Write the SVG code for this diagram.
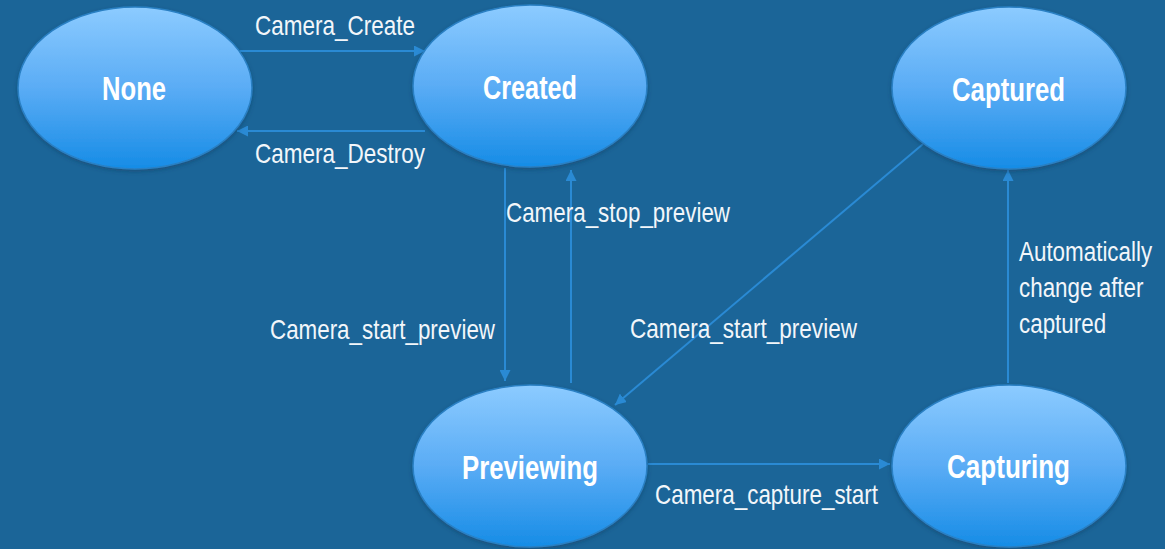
<svg xmlns="http://www.w3.org/2000/svg" width="1165" height="549" viewBox="0 0 1165 549">
<defs>
<linearGradient id="g" x1="0" y1="0" x2="0" y2="1">
<stop offset="0" stop-color="#8CCBFF"/>
<stop offset="0.5" stop-color="#5AACF5"/>
<stop offset="1" stop-color="#168CE6"/>
</linearGradient>
<filter id="sh" x="-10%" y="-10%" width="120%" height="125%">
<feDropShadow dx="0" dy="2" stdDeviation="2" flood-color="#0a3a60" flood-opacity="0.5"/>
</filter>
<marker id="ah" viewBox="0 0 10 10" refX="10" refY="5" markerWidth="11" markerHeight="11" markerUnits="userSpaceOnUse" orient="auto">
<path d="M0,0 L10,5 L0,10 z" fill="#2A8AD4"/>
</marker>
<style>
.node ellipse{fill:url(#g);stroke:#2A80C4;stroke-width:1.5;filter:url(#sh)}
.nl{font-family:"Liberation Sans",Arial,sans-serif;font-weight:bold;font-size:33px;fill:#FFFFFF}
.el{font-family:"Liberation Sans",Arial,sans-serif;font-size:28px;fill:#F2F6FA}
.c line{stroke:#2A8AD4;stroke-width:2;fill:none;marker-end:url(#ah)}
</style>
</defs>
<rect width="1165" height="549" fill="#1B6598"/>
<g id="connectors" class="c">
<line x1="240" y1="51" x2="425" y2="51"/>
<line x1="425" y1="131" x2="237" y2="131"/>
<line x1="505" y1="168" x2="505" y2="381"/>
<line x1="571" y1="383" x2="571" y2="170"/>
<line x1="923" y1="144" x2="615" y2="405"/>
<line x1="648" y1="464" x2="890" y2="464"/>
<line x1="1008" y1="383" x2="1008" y2="170"/>
</g>
<g id="edge-labels" class="el">
<text x="255" y="35" textLength="160" lengthAdjust="spacingAndGlyphs">Camera_Create</text>
<text x="255" y="163" textLength="170" lengthAdjust="spacingAndGlyphs">Camera_Destroy</text>
<text x="506" y="222" textLength="224" lengthAdjust="spacingAndGlyphs">Camera_stop_preview</text>
<text x="270" y="339" textLength="225" lengthAdjust="spacingAndGlyphs">Camera_start_preview</text>
<text x="630" y="338" textLength="227" lengthAdjust="spacingAndGlyphs">Camera_start_preview</text>
<text x="655" y="504" textLength="223" lengthAdjust="spacingAndGlyphs">Camera_capture_start</text>
<g transform="translate(1019,0) scale(0.8,1)">
<text x="0" y="261">Automatically</text>
<text x="0" y="297">change after</text>
<text x="0" y="333">captured</text>
</g>
</g>
<g id="node-none" class="node">
<ellipse cx="135" cy="88" rx="117" ry="81"/>
<text class="nl" x="102" y="100" textLength="64" lengthAdjust="spacingAndGlyphs">None</text>
</g>
<g id="node-created" class="node">
<ellipse cx="530" cy="86" rx="117" ry="81"/>
<text class="nl" x="483" y="99" textLength="94" lengthAdjust="spacingAndGlyphs">Created</text>
</g>
<g id="node-captured" class="node">
<ellipse cx="1009" cy="88" rx="117" ry="81"/>
<text class="nl" x="952" y="101" textLength="113" lengthAdjust="spacingAndGlyphs">Captured</text>
</g>
<g id="node-previewing" class="node">
<ellipse cx="530" cy="466" rx="117" ry="81"/>
<text class="nl" x="462" y="479" textLength="136" lengthAdjust="spacingAndGlyphs">Previewing</text>
</g>
<g id="node-capturing" class="node">
<ellipse cx="1009" cy="466" rx="117" ry="81"/>
<text class="nl" x="947" y="478" textLength="123" lengthAdjust="spacingAndGlyphs">Capturing</text>
</g>
</svg>
